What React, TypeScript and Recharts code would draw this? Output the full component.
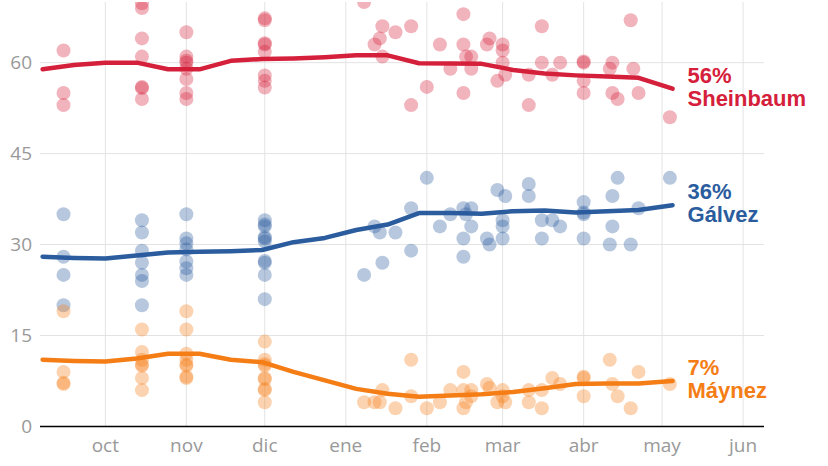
import { ComposedChart, Scatter, Line, XAxis, YAxis, ReferenceLine } from "recharts";

// days counted from 1 oct 2023
const monthTicks = [0, 31, 61, 92, 123, 152, 183, 213, 244];
const monthLabels = ["oct", "nov", "dic", "ene", "feb", "mar", "abr", "may", "jun"];
const yTicks = [0, 15, 30, 45, 60];

const sheinbaumPolls: [number, number][] = [
  [-16, 62], [-16, 55], [-16, 53],
  [14, 69.8], [14, 69], [14, 64], [14, 61], [14, 56], [14, 55.8], [14, 54],
  [31, 65], [31, 61], [31, 60.3], [31, 60], [31, 59], [31, 57.3], [31, 55], [31, 54],
  [61, 67.3], [61, 67], [61, 63.2], [61, 63], [61, 61.8], [61, 57.9], [61, 57], [61, 55.9],
  [99, 70], [103, 63], [105, 64], [106, 66], [106, 61], [111, 65], [117, 66], [117, 53],
  [123, 56], [128, 63], [132, 59], [137, 68], [137, 63], [137, 55], [138, 61], [140, 61],
  [140, 59], [146, 63], [147, 64], [150, 57], [152, 63], [152, 62], [152, 60], [153, 58],
  [162, 58], [162, 53], [167, 66], [167, 60], [171, 58], [174, 60], [183, 60.2], [183, 60],
  [183, 57], [183, 55], [193, 59], [194, 60], [194, 55], [196, 54], [201, 67], [202, 59],
  [204, 55], [216, 51],
];

const galvezPolls: [number, number][] = [
  [-16, 35], [-16, 28], [-16, 25], [-16, 20],
  [14, 34], [14, 32], [14, 29], [14, 27], [14, 25], [14, 24], [14, 20],
  [31, 35], [31, 31], [31, 30.2], [31, 29.2], [31, 27.2], [31, 26.1], [31, 25],
  [61, 34], [61, 33.3], [61, 33], [61, 31.2], [61, 31], [61, 30.5], [61, 27.3], [61, 27], [61, 25], [61, 21],
  [99, 25], [103, 33], [105, 32], [106, 27], [111, 32], [117, 36], [117, 29], [123, 41],
  [128, 33], [132, 35], [137, 36], [137, 31], [137, 28], [138, 35], [140, 36], [140, 33],
  [146, 31], [147, 30], [150, 39], [152, 34], [152, 33], [152, 31], [153, 38], [162, 40],
  [162, 38], [167, 34], [167, 31], [171, 34], [174, 33], [183, 37], [183, 35.3], [183, 35],
  [183, 31], [193, 30], [194, 38], [194, 33], [196, 41], [201, 30], [204, 36], [216, 41],
];

const maynezPolls: [number, number][] = [
  [-16, 19], [-16, 9], [-16, 7.2], [-16, 7],
  [14, 16], [14, 12.3], [14, 11], [14, 10.2], [14, 10], [14, 8], [14, 6],
  [31, 19], [31, 16], [31, 12], [31, 11], [31, 10.2], [31, 10], [31, 8.2], [31, 8],
  [61, 14], [61, 11], [61, 10.3], [61, 10], [61, 8], [61, 7.8], [61, 6.2], [61, 6], [61, 4],
  [99, 4], [103, 4], [105, 4], [106, 6], [111, 3], [117, 11], [117, 5], [123, 3], [128, 4],
  [132, 6], [137, 9], [137, 6], [137, 3], [138, 4], [140, 6], [140, 5], [146, 7], [147, 6.4],
  [150, 4], [152, 6], [152, 5], [153, 4], [162, 6], [162, 4], [167, 6], [167, 3], [171, 8],
  [174, 7], [183, 8.2], [183, 8], [183, 5], [193, 11], [194, 7], [196, 5], [201, 3], [204, 9],
  [216, 7],
];

const trendDays = [-24, -12, 0, 12, 24, 36, 48, 60, 72, 84, 96, 108, 120, 132, 144, 156, 168, 180, 192, 204, 217];
const sheinbaumTrend = [58.9, 59.6, 60.0, 60.0, 58.9, 58.9, 60.3, 60.6, 60.7, 60.9, 61.2, 61.2, 59.9, 59.85, 59.8, 58.8, 58.2, 57.9, 57.7, 57.5, 55.7];
const galvezTrend = [28.0, 27.8, 27.7, 28.2, 28.7, 28.8, 28.9, 29.1, 30.4, 31.1, 32.4, 33.3, 35.2, 35.2, 35.1, 35.5, 35.6, 35.3, 35.5, 35.7, 36.5];
const maynezTrend = [11.0, 10.8, 10.7, 11.2, 12.0, 12.0, 11.0, 10.6, 9.0, 7.6, 6.2, 5.4, 4.9, 5.1, 5.3, 5.7, 6.3, 7.0, 7.1, 7.1, 7.5];

const names = ["Sheinbaum", "Gálvez", "Máynez"];
const finalLabels = ["56%", "36%", "7%"];
const colors = ["#d5203b", "#2a5c9e", "#f57d16"];

const toPoints = (rows: [number, number][]) => rows.map(([d, v]) => ({ d, v }));
const toTrend = (vals: number[]) => vals.map((v, i) => ({ d: trendDays[i], v }));

const polls = [sheinbaumPolls, galvezPolls, maynezPolls].map(toPoints);
const trends = [sheinbaumTrend, galvezTrend, maynezTrend].map(toTrend);

const fmtMonth = (v: number) => monthLabels[monthTicks.indexOf(v)] ?? "";

function endLabel(i: number) {
  return (p: any) => {
    if (p.index !== trendDays.length - 1) return <g key={p.index} />;
    return (
      <g key="end">
        <text x={p.x + 15} y={p.y - 6} fill={colors[i]} fontSize={22} fontWeight={700}
          fontFamily="'Liberation Sans', Arial, sans-serif">
          {finalLabels[i]}
        </text>
        <text x={p.x + 15} y={p.y + 17} fill={colors[i]} fontSize={22} fontWeight={700}
          fontFamily="'Liberation Sans', Arial, sans-serif">
          {names[i]}
        </text>
      </g>
    );
  };
}

export default function App() {
  const tickStyle = { fill: "#999", fontSize: 19, fontFamily: "'Open Sans', sans-serif" };
  return (
    <div style={{ position: "absolute", left: 0, top: 0, background: "#fff" }}>
      <ComposedChart width={828} height={466} margin={{ top: 2, right: 64, bottom: 0, left: 0 }}>
        <XAxis
          type="number"
          dataKey="d"
          domain={[-25, 252]}
          ticks={monthTicks}
          tickFormatter={fmtMonth}
          height={39.5}
          axisLine={false}
          tickLine={false}
          tickMargin={6}
          tick={tickStyle}
          allowDataOverflow
        />
        <YAxis
          type="number"
          dataKey="v"
          domain={[0, 70]}
          ticks={yTicks}
          width={40}
          axisLine={false}
          tickLine={false}
          tick={tickStyle}
          allowDataOverflow
        />
        {monthTicks.map((t) => (
          <ReferenceLine key={"gx" + t} x={t} stroke="#e3e3e3" strokeWidth={1} />
        ))}
        {yTicks.filter((t) => t > 0).map((t) => (
          <ReferenceLine key={"gy" + t} y={t} stroke="#e3e3e3" strokeWidth={1} />
        ))}
        {polls.map((data, i) => (
          <Scatter
            key={"s" + i}
            data={data}
            dataKey="v"
            isAnimationActive={false}
            shape={(p: any) => <circle cx={p.cx} cy={p.cy} r={7} fill={colors[i]} fillOpacity={0.34} />}
          />
        ))}
        <ReferenceLine y={0} stroke="#000" strokeWidth={1.5} />
        {trends.map((data, i) => (
          <Line
            key={"l" + i}
            data={data}
            dataKey="v"
            type="linear"
            stroke={colors[i]}
            strokeWidth={4.5}
            strokeLinejoin="round"
            strokeLinecap="round"
            dot={false}
            activeDot={false}
            isAnimationActive={false}
            label={endLabel(i)}
          />
        ))}
      </ComposedChart>
    </div>
  );
}
